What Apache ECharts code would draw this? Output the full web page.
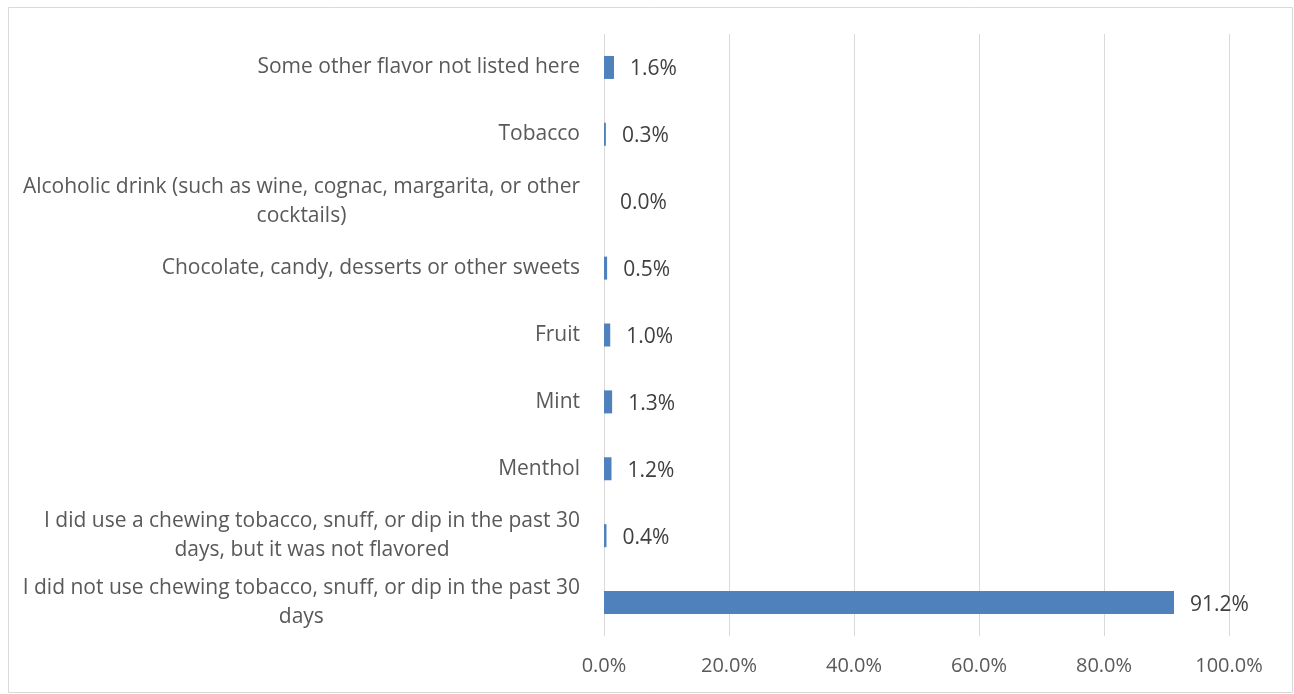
<!DOCTYPE html>
<html><head><meta charset="utf-8">
<script src="https://cdn.jsdelivr.net/npm/echarts@6/dist/echarts.min.js"></script>
<style>html,body{margin:0;padding:0;background:#fff}#c{width:1294px;height:694px}</style>
</head><body><div id="c"></div>
<script>
const categories = [
  "I did not use chewing tobacco, snuff, or dip in the past 30 days",
  "I did use a chewing tobacco, snuff, or dip in the past 30 days, but it was not flavored",
  "Menthol",
  "Mint",
  "Fruit",
  "Chocolate, candy, desserts or other sweets",
  "Alcoholic drink (such as wine, cognac, margarita, or other cocktails)",
  "Tobacco",
  "Some other flavor not listed here"
];
const values = [91.2, 0.4, 1.2, 1.3, 1.0, 0.5, 0.0, 0.3, 1.6];
const xTicks = [0, 20, 40, 60, 80, 100];

function wrap(s, n) {
  const words = s.split(' ');
  const lines = [];
  let cur = '';
  for (const w of words) {
    if (cur && (cur + ' ' + w).length > n) { lines.push(cur); cur = w; }
    else cur = cur ? cur + ' ' + w : w;
  }
  if (cur) lines.push(cur);
  return lines;
}

const FONT = '"Open Sans"';
const FS = 21;
const chart = echarts.init(document.getElementById('c'));
chart.setOption({
  animation: false,
  graphic: [{
    type: 'rect', left: 6, top: 5,
    shape: { width: 1284, height: 685 },
    style: { fill: 'none', stroke: '#d9d9d9', lineWidth: 1 }
  }],
  grid: { left: 604, right: 65, top: 34, bottom: 58, containLabel: false },
  xAxis: {
    type: 'value', min: xTicks[0], max: xTicks[xTicks.length - 1], interval: 20,
    axisLine: { show: false }, axisTick: { show: false },
    splitLine: { lineStyle: { color: '#d9d9d9', width: 1 } },
    axisLabel: { formatter: v => v.toFixed(1) + '%', color: '#595959', fontSize: 20, fontFamily: FONT, margin: 20 }
  },
  yAxis: {
    type: 'category', data: categories,
    axisLine: { show: false }, axisTick: { show: false },
    axisLabel: {
      color: '#595959', fontSize: FS, fontFamily: FONT, margin: 24, lineHeight: 29,
      formatter: v => wrap(v, 59).map(l => '{c|' + l + '}').join('\n'),
      rich: { c: { align: 'center', color: '#595959', fontSize: FS, fontFamily: FONT, lineHeight: 29 } }
    }
  },
  series: [{
    type: 'bar', data: values, barWidth: 23,
    itemStyle: { color: '#4f81bd' },
    label: { show: true, position: 'right', distance: 16, offset: [0, 2], formatter: p => p.value.toFixed(1) + '%',
      color: '#404040', fontSize: FS, fontFamily: FONT }
  }]
});
</script></body></html>
